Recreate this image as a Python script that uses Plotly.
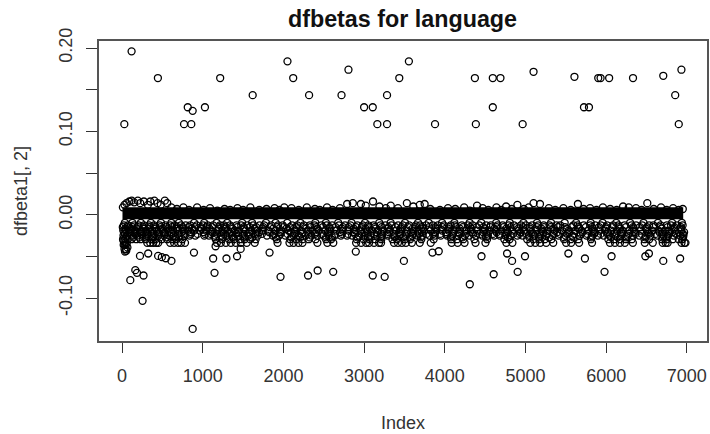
import plotly.graph_objects as go

# Index / dfbeta values
upper_x = [28,118,444,768,814,858,875,1027,1216,1619,2050,2121,2318,2720,2806,3000,3107,3164,3284,3284,3436,3555,3879,4373,4385,4595,4595,4690,4965,5100,5607,5725,5787,5902,5931,6037,6333,6708,6856,6900,6933]
upper_y = [.1087,.196,.164,.1087,.129,.1087,.1247,.129,.164,.1435,.184,.164,.1435,.1435,.174,.129,.129,.1087,.1087,.1435,.164,.184,.1087,.164,.1087,.164,.129,.164,.1087,.1715,.1655,.129,.129,.164,.164,.164,.164,.1667,.1435,.1087,.174]

lower_x = [102,164,185,266,254,875,222,324,447,493,542,612,891,1129,1146,1294,1425,1470,1159,1828,1964,2305,2424,2617,2897,3107,3255,3493,3847,3925,4455,4310,4606,4772,4834,4903,4994,5532,5737,5980,6067,6486,6530,6708,6917]
lower_y = [-.0783,-.0663,-.0695,-.0727,-.1031,-.1367,-.0492,-.0463,-.0492,-.0507,-.052,-.0552,-.0452,-.0523,-.0695,-.0523,-.0496,-.0408,-.0376,-.0452,-.0743,-.0727,-.0667,-.0683,-.044,-.0727,-.0743,-.0552,-.0452,-.0436,-.0496,-.0832,-.0712,-.0463,-.0552,-.0683,-.0496,-.0463,-.0523,-.0683,-.0496,-.0496,-.0463,-.0552,-.0523]

# The solid overplotted core of the series
core_x = [5, 6955]
core_y = [0.0018, 0.0018]

# Upper rim of the dense band
rim_x = [10,30,55,90,120,150,195,225,270,320,350,400,440,480,530,560,610,680,760,830,930,1010,1090,1180,1270,1340,1430,1500,1590,1700,1790,1890,1950,2010,2100,2190,2290,2390,2450,2540,2610,2700,2790,2860,2960,3020,3110,3190,3270,3330,3420,3530,3610,3690,3750,3820,3940,4040,4130,4240,4310,4400,4470,4540,4640,4700,4760,4830,4900,4980,5040,5100,5180,5290,5370,5470,5560,5650,5720,5800,5880,5960,6050,6130,6210,6280,6370,6440,6510,6590,6680,6750,6830,6900,6950]
rim_y = [.009,.012,.014,.016,.017,.015,.017,.014,.016,.012,.016,.017,.014,.012,.017,.014,.009,.007,.009,.006,.009,.006,.008,.005,.007,.006,.008,.006,.009,.006,.007,.008,.006,.009,.008,.006,.009,.007,.006,.009,.006,.008,.013,.014,.013,.011,.016,.010,.008,.011,.008,.014,.010,.012,.013,.007,.006,.008,.007,.009,.005,.011,.008,.006,.009,.006,.010,.007,.012,.007,.009,.014,.013,.008,.006,.008,.006,.013,.007,.008,.006,.009,.007,.006,.010,.009,.008,.006,.014,.007,.009,.006,.008,.006,.007]

row0_x = [35,128,233,357,482,611,704,893,1018,1172,1303,1488,1611,1783,1902,2047,2211,2395,2526,2679,2844,3011,3188,3329,3507,3668,3801,3966,4119,4308,4452,4637,4806,4975,5143,5317,5486,5628,5809,5956,6125,6297,6463,6642,6817,6938]
row0_y = -0.0095
row1_x = [22,74,146,205,271,335,398,466,538,596,652,729,787,845,926,1003,1061,1128,1214,1263,1338,1419,1477,1552,1626,1704,1762,1848,1933,1991,2108,2171,2253,2328,2386,2471,2536,2604,2688,2763,2831,2917,2984,3052,3117,3203,3264,3339,3422,3481,3558,3642,3695,3768,3851,3914,3987,4073,4126,4212,4287,4345,4428,4513,4571,4653,4718,4792,4857,4943,5004,5082,5157,5226,5298,5384,5431,5594,5647,5722,5803,5866,5934,6012,6087,6153,6228,6313,6371,6448,6532,6586,6674,6752,6804,6878,6948]
row1_y = -0.0125
row1a_x = [9,67,131,198,264,341,409,477,549,618,687,752,829,903,977,1052,1119,1201,1275,1347,1428,1509,1583,1662,1749,1833,1921,2002,2079,2163,2244,2335,2408,2489,2572,2646,2738,2812,2899,2973,3058,3131,3218,3302,3389,3466,3551,3634,3717,3806,3884,3971,4058,4139,4223,4314,4397,4479,4563,4642,4729,4815,4892,4971,5056,5141,5229,5311,5402,5489,5573,5659,5748,5825,5912,5996,6079,6162,6247,6336,6418,6503,6589,6671,6763,6846,6927]
row1a_y = -0.0148
row1b_x = [41,109,176,259,327,418,503,569,681,754,866,983,1084,1196,1282,1371,1507,1645,1739,1873,2036,2129,2281,2421,2574,2726,2873,3021,3143,3297,3452,3601,3737,3889,4042,4187,4329,4498,4612,4762,4911,5053,5198,5346,5513,5667,5832,5998,6172,6339,6496,6687,6841,6926]
row1b_y = -0.0165
row2_x = [15,48,104,162,238,304,372,431,506,577,634,698,763,821,892,968,1040,1105,1186,1247,1312,1396,1452,1533,1602,1672,1741,1815,1904,1972,2062,2144,2217,2301,2362,2438,2517,2581,2655,2731,2808,2893,2962,3033,3098,3174,3241,3316,3398,3458,3534,3613,3676,3742,3828,3895,3968,4048,4107,4188,4268,4321,4403,4488,4552,4628,4699,4770,4835,4921,4982,5061,5134,5204,5274,5358,5452,5538,5618,5694,5778,5843,5915,5987,6062,6134,6204,6289,6348,6424,6507,6568,6649,6728,6783,6857,6931]
row2_y = -0.0188
row2b_x = [28,88,152,221,289,351,443,527,603,738,852,1011,1117,1233,1356,1443,1579,1697,1826,1957,2091,2238,2409,2553,2702,2877,3004,3159,3308,3435,3584,3719,3881,4016,4171,4337,4477,4641,4783,4938,5074,5219,5392,5542,5706,5859,6019,6184,6358,6519,6662,6819,6966]
row2b_y = -0.0208
row2c_x = [33,96,167,245,312,391,458,531,612,694,772,851,936,1026,1098,1177,1259,1331,1413,1494,1572,1658,1733,1887,1963,2051,2137,2226,2311,2393,2476,2559,2641,2724,2802,2886,2969,3043,3126,3212,3287,3368,3447,3526,3607,3685,3774,3859,3941,4021,4101,4184,4262,4351,4436,4517,4597,4674,4759,4843,4926,5012,5091,5176,5262,5349,5427,5516,5601,5683,5768,5851,5931,6018,6103,6192,6278,6363,6442,6527,6612,6698,6776,6865,6952]
row2c_y = -0.0228
row3_x = [18,62,125,188,252,318,385,449,522,585,641,712,776,838,908,1019,1078,1147,1228,1291,1362,1437,1498,1566,1681,1796,1869,1948,2024,2127,2192,2274,2347,2419,2493,2563,2637,2712,2789,2852,2938,3008,3081,3156,3222,3295,3376,3442,3517,3596,3658,3724,3809,3876,3949,4029,4092,4167,4246,4304,4386,4465,4534,4611,4682,4751,4818,4899,4963,5042,5115,5189,5253,5337,5412,5497,5581,5671,5757,5825,5898,5969,6043,6116,6187,6268,6331,6409,6491,6549,6632,6711,6766,6840,6915,6958]
row3_y = -0.0248
row3b_x = [52,136,214,296,375,468,553,661,1152,1249,1378,1524,1612,1905,2098,2207,2326,2528,2601,2919,3047,3201,3382,3486,3575,3702,4074,4218,4512,4781,5047,5168,5291,5478,5593,5819,6061,6145,6252,6488,6701,6746,6953]
row3b_y = -0.027
row4_x = [12,38,70,118,176,228,292,361,412,489,558,620,671,745,1161,1239,1326,1384,1464,1519,1589,1656,1918,2085,2159,2236,2314,2398,2528,2592,2908,2995,3066,3139,3213,3351,3409,3503,3571,3709,3862,4081,4152,4229,4367,4524,4738,4803,5021,5097,5171,5239,5321,5478,5562,5654,5812,6027,6098,6171,6249,6318,6476,6534,6694,6751,6824,6899,6944]
row4_y = -0.0292
row5_x = [312,349,386,423,448,596,645,694,731,780,1175,1224,1286,1348,1409,1471,1545,1644,1927,2075,2125,2186,2236,2421,2544,2618,2901,2963,3025,3062,3123,3185,3210,3370,3419,3468,3518,3592,3690,3826,4085,4159,4245,4381,4504,4763,4838,5060,5122,5183,5257,5344,5504,5566,5665,5825,6047,6109,6171,6232,6331,6479,6578,6701,6738,6762,6934,6971,6983]
row5_y = -0.0335

left_x = [20,32,44,18,40,58,30,48,66,36,52]
left_y = [-.036,-.036,-.036,-.031,-.033,-.034,-.041,-.041,-.039,-.044,-.043]

x_ticks = [0,1000,2000,3000,4000,5000,6000,7000]
y_ticks = [-.10,-.05,0,.05,.10,.15,.20]
y_labels = ["-0.10","","0.00","","0.10","","0.20"]
title_text = "dfbetas for language"
x_title = "Index"
y_title = "dfbeta1[, 2]"

FONT = "Liberation Sans, Arial, sans-serif"
INK = "#333333"
fig = go.Figure()
fig.add_trace(go.Scatter(x=core_x, y=core_y, mode="lines", line=dict(color="black", width=12), showlegend=False, hoverinfo="skip"))

all_x = upper_x + lower_x + rim_x + left_x
all_y = upper_y + lower_y + rim_y + left_y
rows = [(row0_x,row0_y),(row1_x,row1_y),(row1a_x,row1a_y),(row1b_x,row1b_y),(row2_x,row2_y),(row2b_x,row2b_y),
        (row2c_x,row2c_y),(row3_x,row3_y),(row3b_x,row3b_y),(row4_x,row4_y),(row5_x,row5_y)]
for xs, yv in rows:
    all_x = all_x + xs
    all_y = all_y + [yv]*len(xs)

fig.add_trace(go.Scatter(x=all_x, y=all_y, mode="markers", showlegend=False,
    marker=dict(symbol="circle-open", size=7, color="black", line=dict(width=1.3, color="black"))))

fig.update_layout(
    width=710, height=434, autosize=False, paper_bgcolor="white", plot_bgcolor="white",
    margin=dict(l=98.5, r=1, t=41, b=93), showlegend=False,
    font=dict(family=FONT, size=18, color=INK),
    title=dict(text=f"<b>{title_text}</b>", x=402.5/710, xanchor="center", y=1-19/434, yanchor="middle",
               font=dict(size=23.3, color="#111111", family=FONT)),
    xaxis=dict(range=[-286,7250], tickvals=x_ticks, ticktext=[str(v) for v in x_ticks], showgrid=False, zeroline=False,
               showline=True, mirror=True, linecolor="#555555", linewidth=1.5,
               ticks="outside", ticklen=10, tickwidth=1, tickcolor="#333333", ticklabelstandoff=8,
               title=dict(text=x_title, standoff=31, font=dict(size=18))),
    yaxis=dict(range=[-.1512,.2084], tickvals=y_ticks, ticktext=y_labels, showgrid=False, zeroline=False,
               showline=True, mirror=True, linecolor="#555555", linewidth=1.5,
               ticks="outside", ticklen=11, tickwidth=1, tickcolor="#333333", tickangle=-90, ticklabelstandoff=7,
               title=dict(text=y_title, standoff=24, font=dict(size=18))),
)
fig.write_html("out.html", post_script="document.body.style.margin='0';", config={"displayModeBar": False})
